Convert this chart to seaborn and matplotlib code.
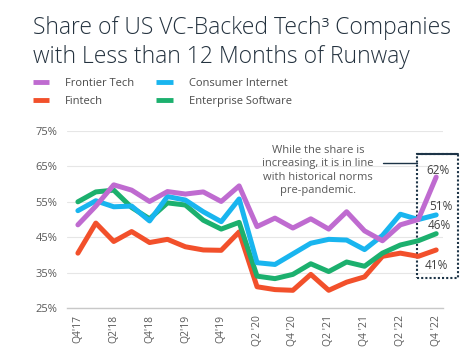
import matplotlib

matplotlib.use("Agg")
import matplotlib.pyplot as plt
import numpy as np
import pandas as pd
import seaborn as sns
from matplotlib.lines import Line2D
from matplotlib.patches import Rectangle

# quarterly share of companies with < 12 months of runway (%)
quarters = [
    "Q4'17", "Q1'18", "Q2'18", "Q3'18", "Q4'18", "Q1'19", "Q2'19", "Q3'19",
    "Q4'19", "Q1'20", "Q2 '20", "Q3 '20", "Q4 '20", "Q1 '21", "Q2 '21",
    "Q3 '21", "Q4 '21", "Q1 '22", "Q2 '22", "Q3 '22", "Q4 '22",
]
frontier_tech = [48.5, 53.8, 59.8, 58.3, 55.1, 57.9, 57.2, 57.8, 55.1, 59.5, 48.0,
                 50.4, 47.6, 50.2, 47.3, 52.2, 46.8, 44.0, 48.5, 50.0, 62.0]
consumer_internet = [52.5, 55.3, 53.6, 53.8, 49.6, 56.5, 55.5, 52.2, 49.4, 55.8, 37.8,
                     37.3, 40.3, 43.3, 44.4, 44.2, 41.5, 45.5, 51.5, 50.0, 51.3]
enterprise_software = [55.0, 57.8, 58.3, 53.4, 50.2, 54.7, 54.1, 49.8, 47.3, 49.2, 34.0,
                       33.3, 34.5, 37.5, 35.3, 38.0, 36.8, 40.5, 42.8, 44.0, 46.0]
fintech = [40.5, 49.0, 43.8, 46.6, 43.5, 44.4, 42.3, 41.4, 41.3, 46.5, 31.0,
           30.2, 30.0, 34.5, 30.0, 32.3, 33.8, 39.6, 40.5, 39.6, 41.4]

series_names = ["Frontier Tech", "Fintech", "Consumer Internet", "Enterprise Software"]
colors = {
    "Frontier Tech": "#BF6BD0",
    "Fintech": "#F2502B",
    "Consumer Internet": "#19B5EF",
    "Enterprise Software": "#1CB06E",
}
draw_order = ["Fintech", "Enterprise Software", "Consumer Internet", "Frontier Tech"]
values = {
    "Frontier Tech": frontier_tech,
    "Fintech": fintech,
    "Consumer Internet": consumer_internet,
    "Enterprise Software": enterprise_software,
}

yticks = [25, 35, 45, 55, 65, 75]
annotation = "While the share is\nincreasing, it is in line\nwith historical norms\npre-pandemic."

sns.set_theme(style="white")
plt.rcParams["font.family"] = ["Open Sans", "DejaVu Sans"]

fig = plt.figure(figsize=(4.75, 3.63), dpi=100)
ax = fig.add_axes([0.141, 0.1515, 0.792, 0.4875])

idx = np.arange(len(quarters))
for name in draw_order:
    df = pd.DataFrame({"q": idx, "share": values[name]})
    sns.lineplot(data=df, x="q", y="share", color=colors[name], lw=3.6, ax=ax,
                 solid_capstyle="round", solid_joinstyle="round")

ax.set_xlim(-0.61, 20.39)
ax.set_ylim(25, 75)
ax.set_yticks(yticks)
ax.set_yticklabels([f"{v}%" for v in yticks], color="#595959", fontsize=8)
ax.set_xticks(idx[::2])
ax.set_xticklabels(quarters[::2], rotation=90, color="#595959", fontsize=7.5)
ax.tick_params(axis="y", length=0, pad=7)
ax.tick_params(axis="x", length=0, pad=5)
ax.set_xlabel("")
ax.set_ylabel("")
ax.grid(axis="y", color="#e6e6e6", lw=0.8)
ax.grid(axis="x", visible=False)
for s in ["left", "right", "top"]:
    ax.spines[s].set_visible(False)
ax.spines["bottom"].set_color("#c8c8c8")
ax.spines["bottom"].set_linewidth(1)

# end-of-series labels
offsets = {
    "Frontier Tech": (2, 7),
    "Consumer Internet": (5, 8),
    "Enterprise Software": (3, 8),
    "Fintech": (0, -16),
}
for name, (dx, dy) in offsets.items():
    v = values[name][-1]
    ax.annotate(f"{v:.0f}%", (idx[-1], v), xytext=(dx, dy), textcoords="offset pixels",
                ha="center", va="center", fontsize=8.5, color="#404040",
                annotation_clip=False)

# callout box around the latest quarter
box_col = "#1d3447"
x0, x1, y0, y1 = 18.94, 21.21, 33.5, 68.5
ax.plot([x0, x1], [y1, y1], color=box_col, lw=1.5, clip_on=False)
ax.add_patch(Rectangle((x0, y0), x1 - x0, y1 - y0, fill=False, ec=box_col, lw=1.5,
                       ls=(0, (1, 1)), clip_on=False))
ax.text(13.39, 63.9, annotation, ha="center", va="center", fontsize=8,
        color="#595959", linespacing=1.3)
ax.plot([17.04, x0], [65.9, 65.9], color=box_col, lw=1, clip_on=False)

fig.text(0.069, 0.955, "Share of US VC-Backed Tech³ Companies\nwith Less than 12 Months of Runway",
         ha="left", va="top", fontsize=16.5, color="#24323f", linespacing=1.25,
         fontweight="light")

handles = [Line2D([0], [0], color=colors[n], lw=3.5, solid_capstyle="butt") for n in series_names]
fig.legend(handles, series_names, loc="upper left", bbox_to_anchor=(0.069, 0.785),
           ncol=2, frameon=False, fontsize=8, borderpad=0, borderaxespad=0,
           handlelength=1.5, handletextpad=1.4, columnspacing=2.0, labelspacing=0.6,
           labelcolor="#4a4a4a")

fig.savefig("out.png", dpi=100)
